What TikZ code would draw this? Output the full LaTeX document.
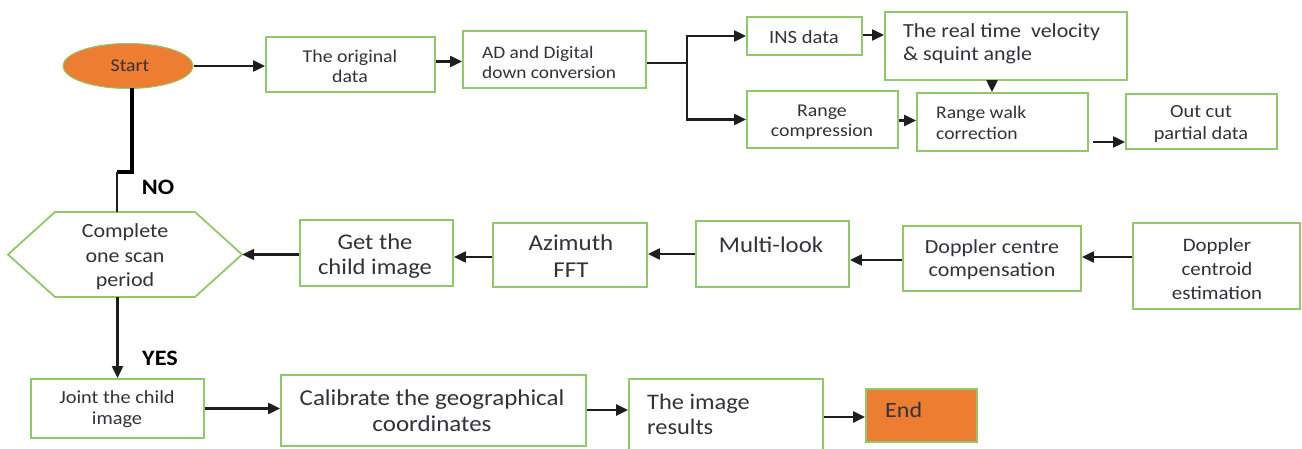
\documentclass[tikz,border=0pt]{standalone}
\usepackage{fontspec}
\setmainfont{Carlito}[FakeStretch=1.1]
\usetikzlibrary{arrows.meta,shapes.geometric,calc}
\definecolor{boxgreen}{RGB}{146,200,108}
\definecolor{orng}{RGB}{237,125,49}
\definecolor{txtc}{RGB}{50,50,58}
\definecolor{linec}{RGB}{30,30,30}
\newcommand\fsz[2]{\fontsize{#1}{#2}\selectfont}
\tikzset{
  box/.style={draw=boxgreen, line width=1.8pt, rectangle, inner sep=0pt},
  txt/.style={inner sep=0pt, text=txtc, align=center},
  ltxt/.style={inner sep=0pt, text=txtc, align=left, anchor=west},
  arr/.style={draw=linec, line width=2.1pt, -{Triangle[length=12pt,width=11pt]}},
  plain/.style={draw=linec, line width=2.1pt},
  lbl/.style={inner sep=0pt, text=black, font=\fsz{22}{26}\bfseries},
}
\begin{document}
\begin{tikzpicture}[x=1pt,y=-1pt]
\useasboundingbox (0,0) rectangle (1302,449);
\clip (0,0) rectangle (1302,449);
\fill[white] (0,0) rectangle (1302,449);

% ---------- boxes ----------
\node[ellipse, draw=boxgreen, line width=1pt, fill=orng, minimum width=130pt, minimum height=45pt, inner sep=0pt] (start) at (128,66) {};
\node[box, minimum width=169pt, minimum height=55pt] (orig) at (350.5,64.5) {};
\node[box, minimum width=183pt, minimum height=57pt] (ad) at (554.5,59.5) {};
\node[box, minimum width=115pt, minimum height=38pt] (ins) at (804.5,36) {};
\node[box, minimum width=242pt, minimum height=68pt] (rt) at (1006,46) {};
\node[box, minimum width=151pt, minimum height=57pt] (rc) at (822.5,119.5) {};
\node[box, minimum width=171pt, minimum height=58pt] (rw) at (1002.5,122) {};
\node[box, minimum width=151pt, minimum height=55pt] (oc) at (1201.5,121.5) {};

\node[minimum width=234pt, minimum height=85pt, inner sep=0pt] (hex) at (125,254.5) {};
\draw[boxgreen, line width=1.8pt, line join=miter] (55,212) -- (195,212) -- (242,254.5) -- (195,297) -- (55,297) -- (8,254.5) -- cycle;
\node[box, minimum width=153pt, minimum height=66pt] (get) at (376.5,253) {};
\node[box, minimum width=154pt, minimum height=64pt] (az) at (570,255) {};
\node[box, minimum width=153pt, minimum height=66pt] (ml) at (772.5,254) {};
\node[box, minimum width=178pt, minimum height=65pt] (dc) at (992,258.5) {};
\node[box, minimum width=167pt, minimum height=86pt] (de) at (1216.5,266) {};

\node[box, minimum width=173pt, minimum height=59pt] (joint) at (117.5,408.5) {};
\node[box, minimum width=305pt, minimum height=71pt] (cal) at (433.5,410.5) {};
\node[box, minimum width=194pt, minimum height=76pt] (res) at (726,417) {};
\node[box, fill=orng, minimum width=111pt, minimum height=53pt] (end) at (921.5,415.5) {};

% ---------- texts ----------
\node[txt, font=\fsz{18}{20}] (tstart) at (130,66) {Start};
\node[txt, font=\fsz{18}{20}] (torig) at (350,66) {The original\\data};
\node[ltxt, font=\fsz{17.6}{20}] (tad) at (482,62) {AD and Digital\\down conversion};
\node[txt, font=\fsz{18.7}{21}] (tins) at (804,37) {INS data};
\node[ltxt, font=\fsz{20}{23}] (trt) at (903,44) {The real time\ \ velocity\\\& squint angle};
\node[txt, font=\fsz{18}{20}] (trc) at (822,122) {Range\\compression};
\node[ltxt, font=\fsz{17.8}{21}] (trw) at (936,122.5) {Range walk\\correction};
\node[txt, font=\fsz{18.5}{22}] (toc) at (1201,124) {Out cut\\partial data};

\node[txt, font=\fsz{20}{24.5}] (thex) at (125,257) {Complete\\one scan\\period};
\node[txt, font=\fsz{22.4}{25}] (tget) at (375,256) {Get the\\child image};
\node[txt, font=\fsz{22.7}{27}] (taz) at (571,256.5) {Azimuth\\FFT};
\node[txt, font=\fsz{22.5}{26}] (tml) at (771,245) {Multi-look};
\node[txt, font=\fsz{20}{23}] (tdc) at (992,259.5) {Doppler centre\\compensation};
\node[txt, font=\fsz{19}{24}] (tde) at (1217,269) {Doppler\\centroid\\estimation};

\node[txt, font=\fsz{18.5}{21}] (tjoint) at (117,409.5) {Joint the child\\image};
\node[txt, font=\fsz{22.7}{26}] (tcal) at (432,411) {Calibrate the geographical\\coordinates};
\node[ltxt, font=\fsz{22.2}{25}] (tres) at (647,414.5) {The image\\results};
\node[ltxt, font=\fsz{21.8}{25}] (tend) at (885,410) {End};

\node[lbl] (no) at (158,187) {NO};
\node[lbl] (yes) at (160,358) {YES};

% ---------- connectors ----------
\draw[arr] (start.east) -- (start.east -| orig.west);
\draw[arr] ($(orig.east)+(0,-3)$) -- ($(orig.east -| ad.west)+(0,-3)$);
\coordinate (br) at (687,63);
\draw[plain] (ad.east |- br) -- (br);
\draw[arr] (br) |- (ins.west);
\draw[arr] (br) |- (rc.west);
\draw[arr] ($(ins.east)+(0,-1)$) -- ($(ins.east -| rt.west)+(0,-1)$);
\coordinate (rtdown) at (992,80);
\draw[arr] (rtdown |- rt.south) -- (rtdown |- rw.north);
\draw[arr] ($(rc.east)+(0,1)$) -- ($(rc.east -| rw.west)+(0,1)$);
\coordinate (ocin) at (1093,142);
\draw[arr] (ocin) -- (ocin -| oc.west);

\coordinate (s1) at (132,88);
\coordinate (s2) at (132,172);
\coordinate (s3) at (117,172);
\draw[draw=black, line width=4.5pt, line join=miter] (s1) -- (s2) -- (s3);
\draw[plain] (s3) -- (s3 |- hex.north);

\draw[arr] (get.west |- hex.east) -- (hex.east);
\draw[arr] ($(az.west)+(0,2)$) -- ($(az.west -| get.east)+(0,2)$);
\draw[arr] (ml.west) -- (ml.west -| az.east);
\draw[arr] ($(dc.west)+(0,1.5)$) -- ($(dc.west -| ml.east)+(0,1.5)$);
\draw[arr] ($(de.west |- dc.west)+(0,-1.5)$) -- ($(dc.east)+(0,-1.5)$);

\draw[arr] (joint.north |- hex.south) -- (joint.north);
\draw[arr] (joint.east) -- (joint.east -| cal.west);
\draw[arr, line width=2.8pt] ($(cal.east)+(0,-0.5)$) -- ($(cal.east -| res.west)+(0,-0.5)$);
\draw[arr, line width=2.8pt] (res.east) -- (res.east -| end.west);
\end{tikzpicture}
\end{document}
